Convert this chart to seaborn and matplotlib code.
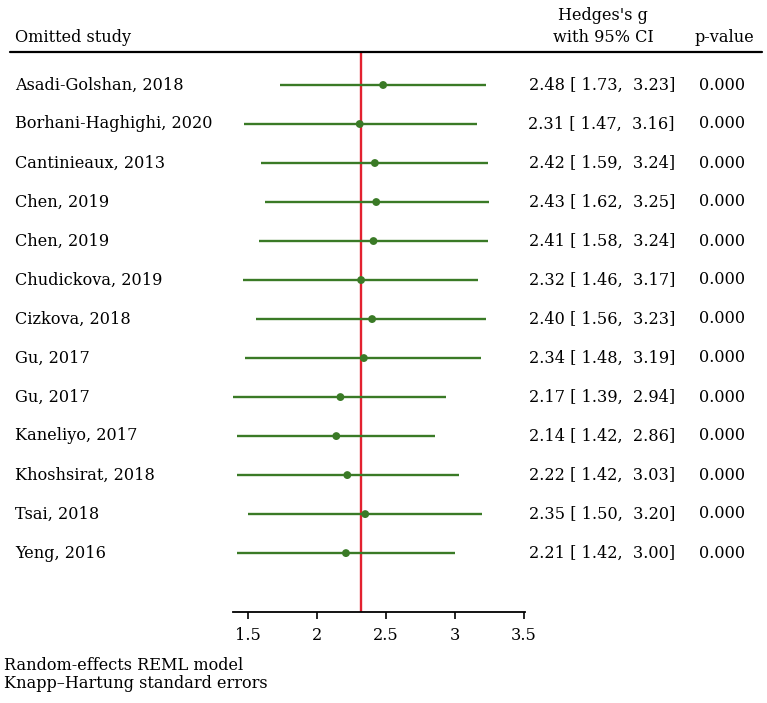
import numpy as np
import pandas as pd
import matplotlib
matplotlib.use("Agg")
import matplotlib.pyplot as plt
import seaborn as sns

studies = [
    "Asadi-Golshan, 2018", "Borhani-Haghighi, 2020", "Cantinieaux, 2013",
    "Chen, 2019", "Chen, 2019", "Chudickova, 2019", "Cizkova, 2018",
    "Gu, 2017", "Gu, 2017", "Kaneliyo, 2017", "Khoshsirat, 2018",
    "Tsai, 2018", "Yeng, 2016",
]
g = [2.48, 2.31, 2.42, 2.43, 2.41, 2.32, 2.40, 2.34, 2.17, 2.14, 2.22, 2.35, 2.21]
lo = [1.73, 1.47, 1.59, 1.62, 1.58, 1.46, 1.56, 1.48, 1.39, 1.42, 1.42, 1.50, 1.42]
hi = [3.23, 3.16, 3.24, 3.25, 3.24, 3.17, 3.23, 3.19, 2.94, 2.86, 3.03, 3.20, 3.00]
pval = [0.000] * 13
overall = 2.32
xticks = [1.5, 2, 2.5, 3, 3.5]

df = pd.DataFrame({"study": studies, "g": g, "lo": lo, "hi": hi, "p": pval})
df["row"] = np.arange(1, len(df) + 1)

sns.set_style("white")
plt.rcParams["font.family"] = ["DejaVu Serif"]
plt.rcParams["text.color"] = "black"
plt.rcParams["xtick.color"] = "black"
fs = 11.6

W, H = 767, 703
fig = plt.figure(figsize=(W / 100, H / 100), dpi=100)


def fx(px):
    return px / W


def fy(py):
    return 1 - py / H


green = "#3a7a26"
red = "#e3212f"

ax = fig.add_axes([fx(233), fy(612), fx(525) - fx(233), fy(52) - fy(612)])
ax.hlines(df["row"], df["lo"], df["hi"], color=green, lw=1.7, zorder=2)
sns.scatterplot(data=df, x="g", y="row", ax=ax, color=green, s=32,
                edgecolor="none", zorder=3, legend=False)
ax.axvline(overall, color=red, lw=1.7, zorder=1)

ax.set_xlim(1.39, 3.51)
ax.set_ylim(14.51, 0.154)
ax.set_xticks(xticks)
ax.set_xticklabels([f"{t:g}" for t in xticks], fontsize=fs)
ax.set_yticks([])
ax.set_xlabel("")
ax.set_ylabel("")
for s in ["top", "left", "right"]:
    ax.spines[s].set_visible(False)
ax.spines["bottom"].set_color("black")
ax.spines["bottom"].set_linewidth(1.3)
ax.tick_params(axis="x", direction="out", length=5, width=1.2, color="black", pad=6,
               bottom=True)

# header
fig.add_artist(plt.Line2D([fx(10), fx(762)], [fy(52), fy(52)],
                          transform=fig.transFigure, color="black", lw=1.6))
fig.text(fx(15), fy(38), "Omitted study", fontsize=fs, va="center", ha="left")
fig.text(fx(603), fy(15), "Hedges's g", fontsize=fs, va="center", ha="center")
fig.text(fx(603), fy(38), "with 95% CI", fontsize=fs, va="center", ha="center")
fig.text(fx(724), fy(38), "p-value", fontsize=fs, va="center", ha="center")

# rows
for _, r in df.iterrows():
    y = fy(85 + 39 * (r["row"] - 1))
    fig.text(fx(15), y, r["study"], fontsize=fs, va="center", ha="left")
    fig.text(fx(675), y, f"{r['g']:.2f} [{r['lo']:5.2f}, {r['hi']:5.2f}]",
             fontsize=fs, va="center", ha="right")
    fig.text(fx(722), y, f"{r['p']:.3f}", fontsize=fs, va="center", ha="center")

fig.text(fx(4), fy(665), "Random-effects REML model", fontsize=fs, va="center")
fig.text(fx(4), fy(684), "Knapp\u2013Hartung standard errors", fontsize=fs, va="center")

fig.savefig("out.png", dpi=100, facecolor="white")
